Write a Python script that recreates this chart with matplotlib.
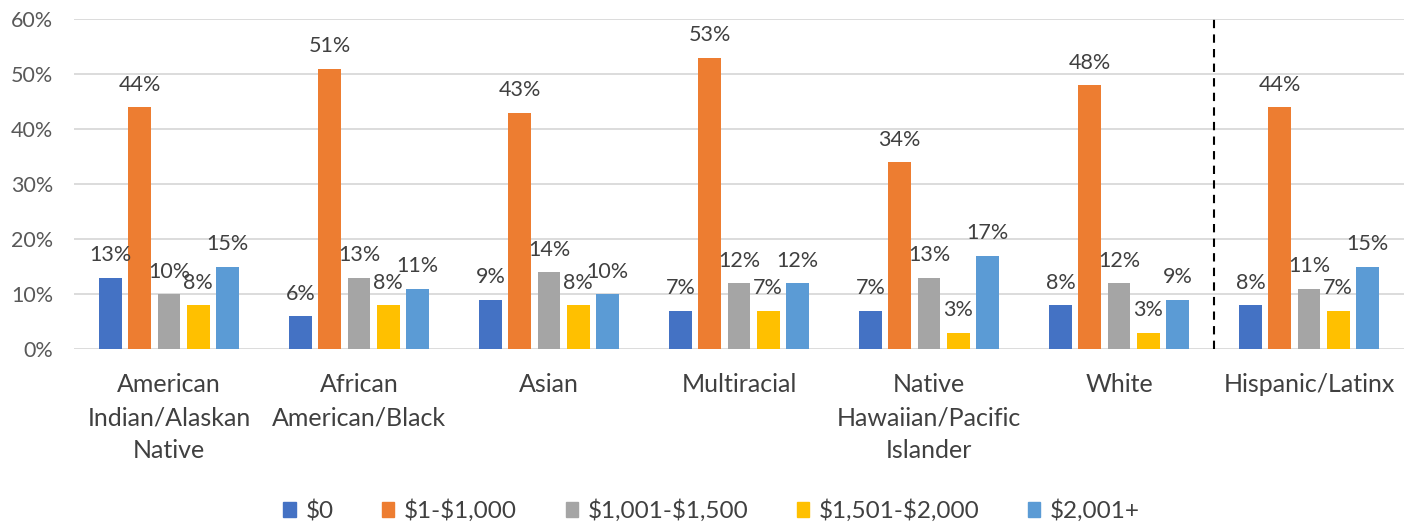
import matplotlib
matplotlib.use("Agg")
import matplotlib.pyplot as plt
from matplotlib.patches import Patch

categories = ["American\nIndian/Alaskan\nNative", "African\nAmerican/Black", "Asian",
              "Multiracial", "Native\nHawaiian/Pacific\nIslander", "White", "Hispanic/Latinx"]
series_names = ["$0", "$1-$1,000", "$1,001-$1,500", "$1,501-$2,000", "$2,001+"]
values = [
    [13, 6, 9, 7, 7, 8, 8],
    [44, 51, 43, 53, 34, 48, 44],
    [10, 13, 14, 12, 13, 12, 11],
    [8, 8, 8, 7, 3, 3, 7],
    [15, 11, 10, 12, 17, 9, 15],
]
yticks = [0, 10, 20, 30, 40, 50, 60]
colors = ["#4472C4", "#ED7D31", "#A5A5A5", "#FFC000", "#5B9BD5"]

plt.rcParams['font.family'] = ['Lato', 'DejaVu Sans']
plt.rcParams['text.parse_math'] = False

W, H = 1412, 529
fig = plt.figure(figsize=(W / 100, H / 100), dpi=100)
ax = fig.add_axes([74 / W, 1 - 349 / H, (1404 - 74) / W, (349 - 19) / H])

step = 0.154
bw = 0.12
for j, (name, vals, c) in enumerate(zip(series_names, values, colors)):
    xs = [i + (j - 2) * step for i in range(len(categories))]
    ax.bar(xs, vals, width=bw, color=c, label=name, zorder=3)
    for x, v in zip(xs, vals):
        ax.annotate(f"{v}%", (x, v), xytext=(0, 16), textcoords="offset points",
                    ha="center", va="center", fontsize=15.5, color="#404040", zorder=4)

ax.set_xlim(-0.5, len(categories) - 0.5)
ax.set_ylim(0, 60)
ax.set_yticks(yticks)
ax.set_yticklabels([f"{t}%" for t in yticks], fontsize=15.5, color="#595959")
ax.yaxis.grid(True, color="#D9D9D9", linewidth=1.3, zorder=0)
ax.set_xticks(range(len(categories)))
ax.set_xticklabels(categories, fontsize=18, color="#404040", linespacing=1.52)
ax.tick_params(axis="both", length=0)
ax.tick_params(axis="x", pad=17.5)
ax.tick_params(axis="y", pad=15)
for s in ax.spines.values():
    s.set_visible(False)

ax.axvline(5.5, color="black", linestyle=(0, (4, 3)), linewidth=1.5, zorder=5)

handles = [Patch(color=c) for c in colors]
fig.legend(handles, series_names, loc="center", bbox_to_anchor=(0.504, 1 - 511 / H),
           ncol=5, frameon=False, fontsize=17.5, handlelength=0.5, handleheight=0.6,
           columnspacing=2.0, handletextpad=0.4, labelcolor="#404040")

fig.savefig("out.png", dpi=100)
